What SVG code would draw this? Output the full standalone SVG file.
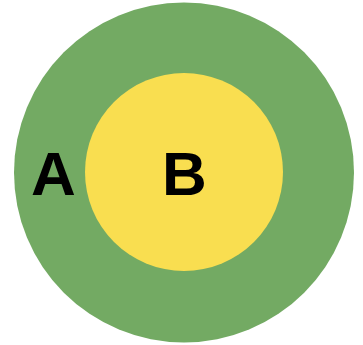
<svg xmlns="http://www.w3.org/2000/svg" width="363" height="345" viewBox="0 0 363 345">
<style>
.lbl{font-family:"Liberation Sans",Arial,sans-serif;font-weight:bold;font-size:62px;fill:#000;text-anchor:middle}
</style>
<rect width="363" height="345" fill="#fff"/>
<g id="A">
<circle cx="184" cy="172.5" r="170" fill="#73AA63"/>
<text class="lbl" x="53.5" y="195">A</text>
</g>
<g id="B">
<circle cx="184" cy="172" r="99" fill="#F9DE50"/>
<text class="lbl" x="184.5" y="195">B</text>
</g>
<g id="connectors"></g>
</svg>
